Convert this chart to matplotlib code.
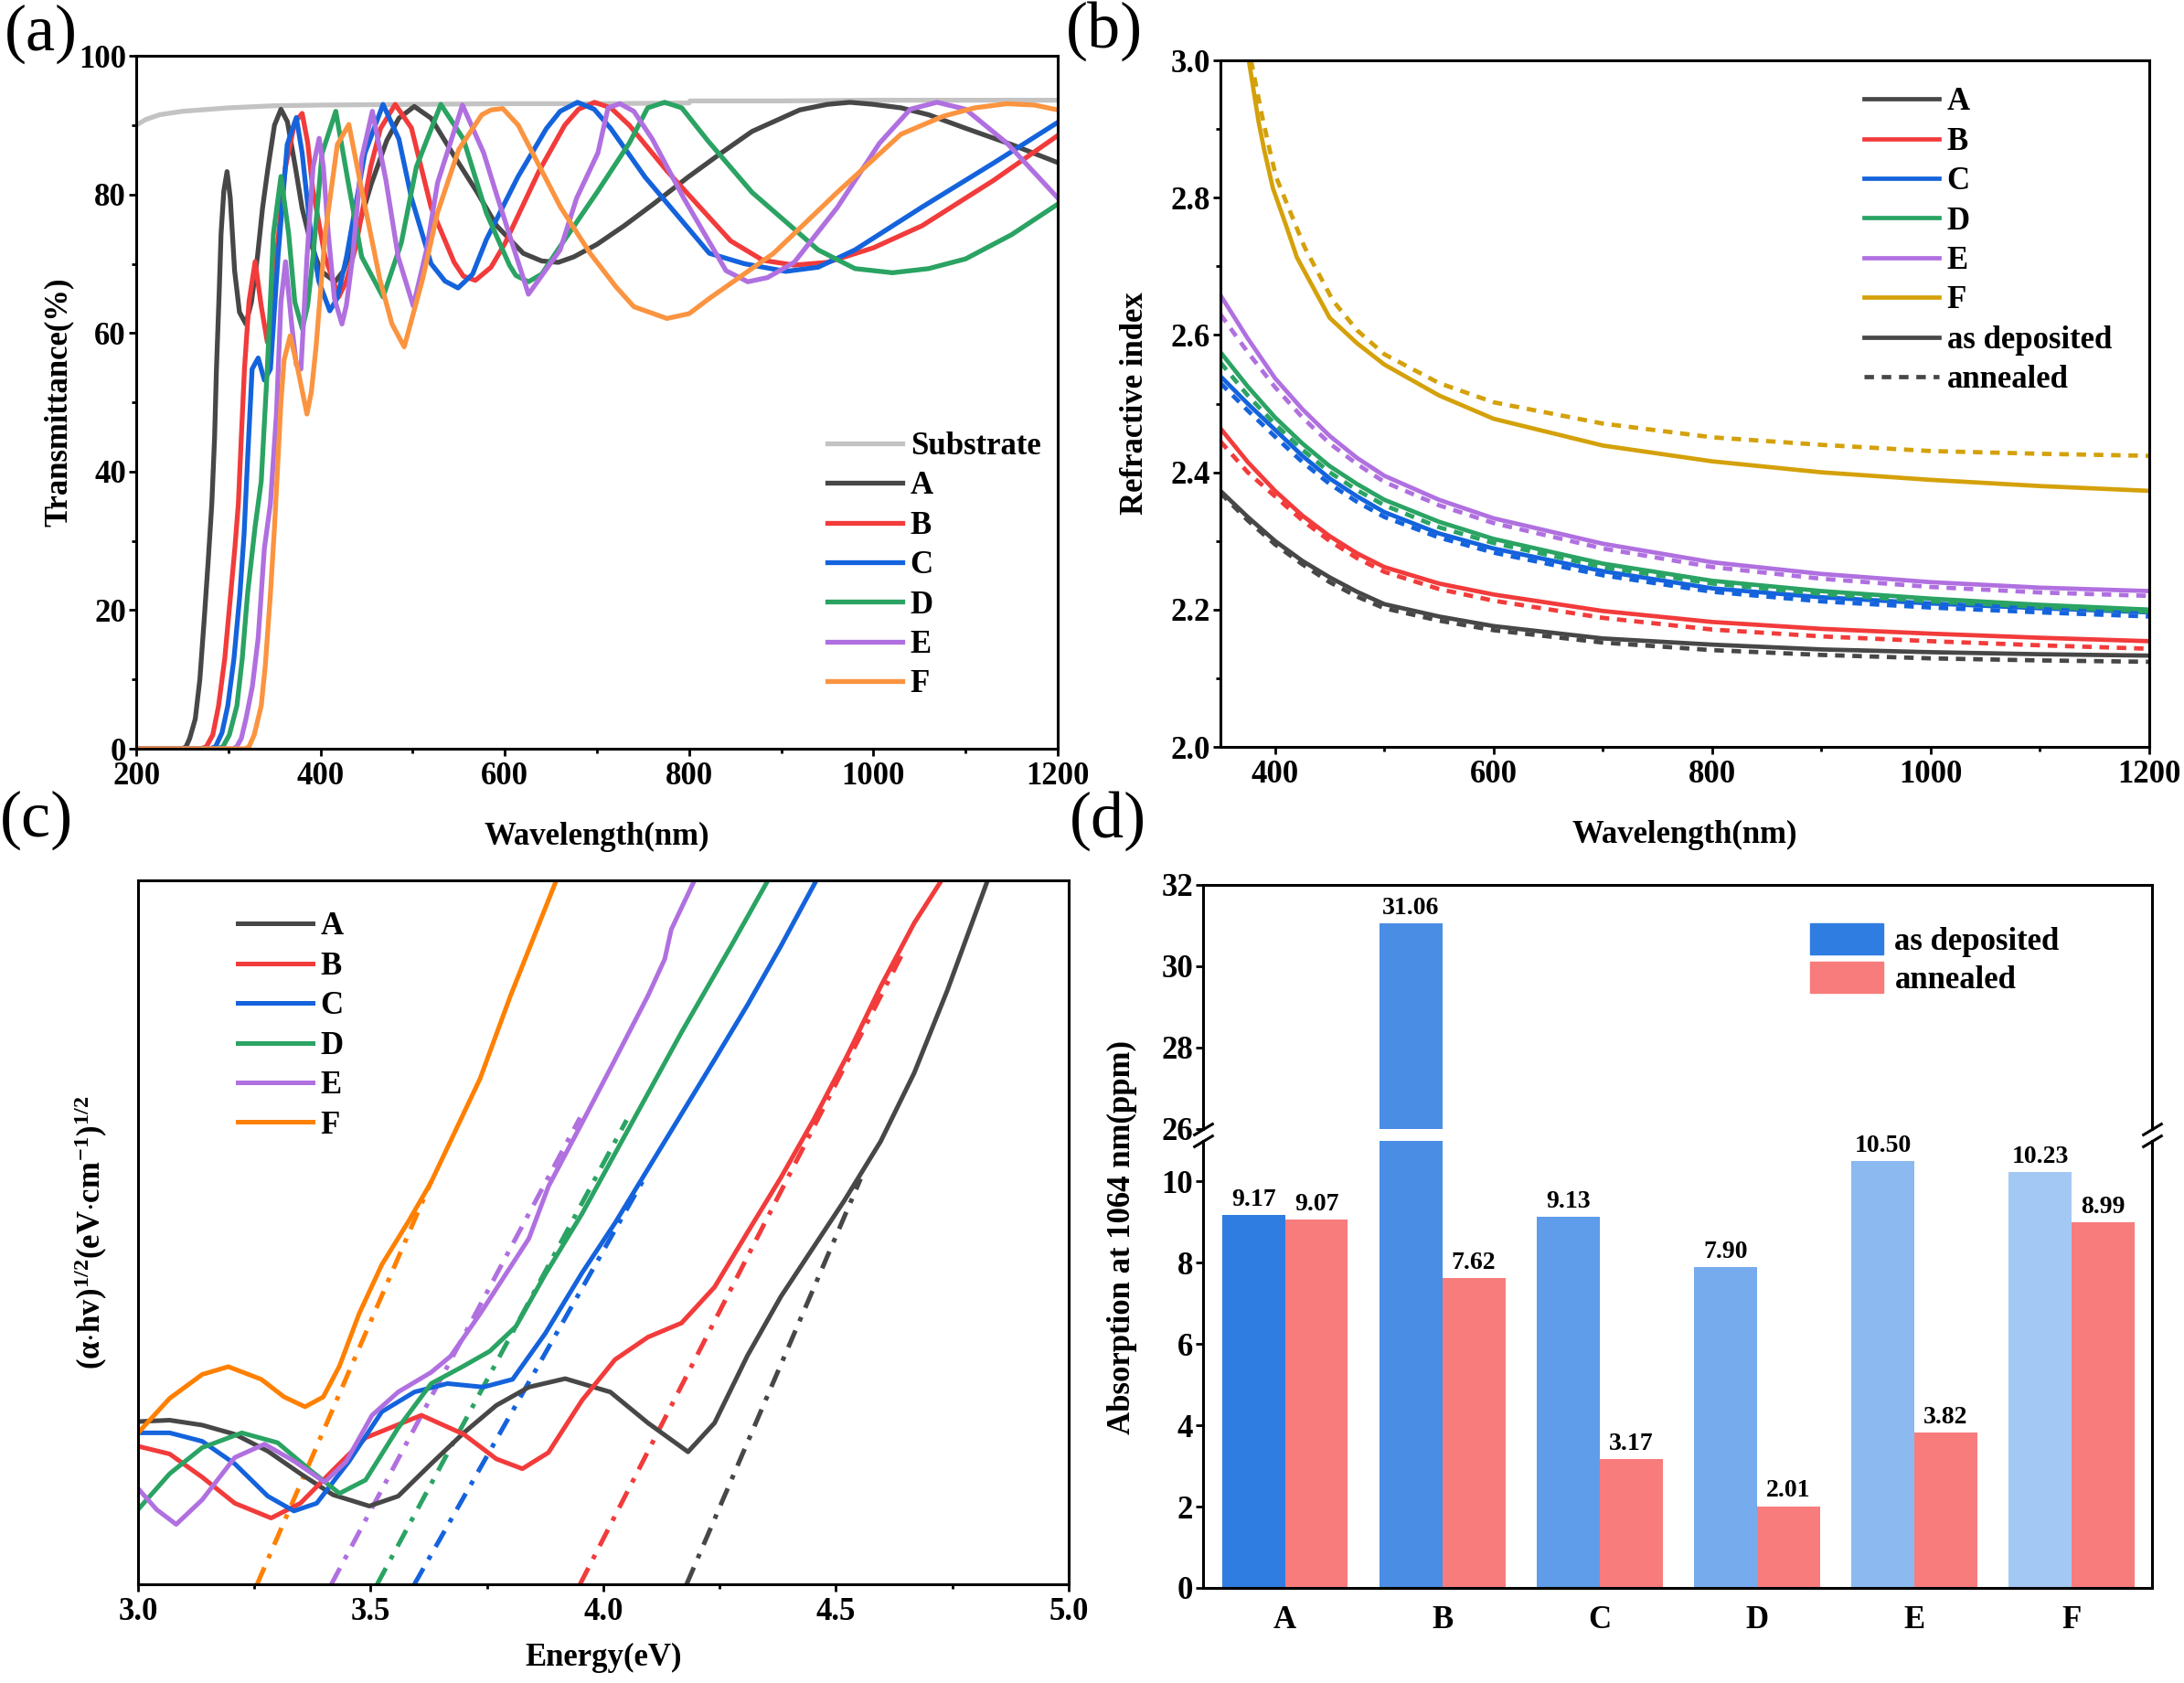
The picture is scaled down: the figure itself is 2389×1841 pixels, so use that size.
import numpy as np
import matplotlib.pyplot as plt
from matplotlib.ticker import MultipleLocator, FormatStrFormatter, NullLocator
from matplotlib.patches import Patch

# ---------------- data ----------------
# (a) transmittance spectra
sub_wl = [200, 210, 225, 250, 300, 350, 400, 500, 600, 700, 800, 801, 900, 1000, 1100, 1200]
sub_T = [90.0, 90.8, 91.5, 92.0, 92.5, 92.8, 92.9, 93.0, 93.1, 93.1, 93.2, 93.5, 93.5, 93.6, 93.6, 93.6]

A_wl = [200, 250, 254, 258, 264, 269, 274, 278, 282, 285, 287, 290, 292, 295, 298.5, 302, 306.7, 312,
        319, 325, 331.5, 337, 343, 350, 357, 364, 372.7, 380, 389.3, 400, 415.7, 425, 438.8, 455, 471.9,
        485, 501.7, 520, 544.8, 570, 591, 620, 640, 658, 675, 700, 729.7, 760, 798.8, 835, 868.3, 920,
        950, 974.5, 1000, 1030, 1060, 1099, 1150, 1200]
A_T = [0, 0, 0.3, 1.5, 4.3, 10, 19.2, 27, 35.4, 45, 54.8, 66, 74.3, 80.5, 83.3, 79.5, 69.0, 63,
       61.3, 64.5, 71, 78, 83.9, 90, 92.3, 90.5, 83.9, 78, 73, 69, 67.4, 69, 74.3, 81.5, 87.8,
       91, 92.7, 91, 85.6, 80.3, 75.5, 71.5, 70.4, 70.2, 71, 72.8, 75.5, 78.5, 82.5, 86, 89.1, 92.2,
       93.0, 93.3, 93.0, 92.5, 91.5, 89.6, 87.2, 84.6]

B_wl = [200, 270, 276, 283, 289.3, 296, 302.5, 307, 310.8, 314, 317.4, 322.3, 329, 335.6, 342.2, 347,
        352.1, 357, 362, 372, 380, 386, 391.6, 404.8, 419.7, 428, 437.9, 454.4, 465, 481, 498.6, 520,
        545, 555, 568, 585, 600, 637.2, 665, 680, 697.3, 715, 735, 775.9, 845, 880, 914, 950, 1000,
        1053, 1130, 1200]
B_T = [0, 0, 0.3, 2, 6.2, 13, 22.4, 29, 35.4, 45, 54.8, 64.5, 70.3, 63.9, 58.7, 63,
       71, 78, 84, 90.4, 91.7, 87.5, 80.7, 71, 65.2, 67.5, 72.3, 84, 89.5, 93, 89.6, 78.1,
       70.2, 68.2, 67.6, 69.5, 72.9, 83.4, 90, 92.3, 93.3, 92.5, 90, 83.4, 73.3, 70.5, 69.8, 70.2, 72.3,
       75.5, 82, 88.5]

C_wl = [200, 280, 286, 293, 299.3, 306, 312.5, 317, 320.8, 325.7, 332.3, 339, 345.6, 353.8, 363.8,
        373.7, 380, 388.5, 398, 410, 418, 428.2, 448, 467.8, 485, 498.6, 520, 535, 549.2, 565, 580, 614,
        645, 660, 678.8, 697, 715, 752.2, 822, 860, 905, 940, 980, 1053, 1130, 1200]
C_T = [0, 0, 0.3, 2.3, 6.2, 13, 22.4, 31, 41.8, 54.8, 56.4, 53.2, 54.8, 71, 87.2,
       91.1, 86, 75.5, 67.5, 63.2, 65, 71, 85.9, 93, 88, 79.5, 70, 67.5, 66.5, 68.5, 73.5, 82.5,
       89.5, 92, 93.3, 92.3, 89.5, 82.5, 71.5, 70, 68.9, 69.5, 72, 78.2, 84.5, 90.4]

D_wl = [200, 288, 294, 301, 309.2, 315, 320.8, 329, 335.6, 342.2, 348.8, 357, 365.4, 372, 380.2, 386,
        391.8, 401.6, 416.5, 431.4, 444.6, 467.8, 487.6, 504, 530.5, 555, 580, 605, 612, 625.6, 640, 660,
        700, 735, 755, 773.4, 792, 820, 868.3, 940, 980, 1020.7, 1060, 1100, 1150, 1200]
D_T = [0, 0, 0.3, 2, 6.2, 13, 22.4, 32.1, 38.6, 54.8, 74.3, 82.6, 74.3, 64.5, 60.6, 64,
       71, 85.9, 92, 80.7, 71, 65.2, 73, 84, 93, 88, 77.3, 69.8, 68.3, 67.4, 68.5, 72.5,
       80.3, 87.4, 92.5, 93.3, 92.5, 87.8, 80.3, 72, 69.3, 68.7, 69.3, 70.7, 74.2, 78.6]

E_wl = [200, 305, 309, 314, 319, 326, 332.3, 339, 345.6, 352.1, 357, 362, 368.6, 373.7, 378.7, 385.3,
        391.9, 398.5, 403, 408.4, 415, 423.2, 428, 434.8, 444.6, 456.2, 471, 484.2, 500.6, 515, 527,
        554, 577, 591, 625.6, 660, 678, 701, 712, 724.9, 740, 760, 794, 840, 863.7, 885, 914, 960.7,
        1006.6, 1040, 1069, 1100, 1145, 1200]
E_T = [0, 0, 0.3, 1.5, 4.3, 9, 16, 28.9, 35.4, 48.3, 64.5, 70.3, 61.3, 55.4, 54.8, 71,
       84, 88.1, 84, 74.3, 65, 61.3, 64, 71, 85.2, 92, 82, 71, 63.9, 72, 81.7,
       92.9, 86, 80, 65.6, 72, 79.5, 86, 92.5, 93.1, 92, 88, 79.5, 69, 67.4, 68, 70.2, 78.1,
       87.4, 92.3, 93.3, 92.3, 87.4, 79.5]

F_wl = [200, 318, 322.3, 328, 335.6, 340, 345.6, 350, 353.8, 357, 360.4, 367, 375.3, 385.2, 390, 395.1,
        405, 418.2, 430.7, 444.6, 464.4, 477.5, 490.8, 510.6, 527, 550, 575, 585, 597.8, 614.5, 660.3,
        692.6, 720.4, 740, 775.9, 800, 822, 891.6, 960.7, 1030, 1076, 1110, 1145, 1175, 1200]
F_T = [0, 0, 0.3, 2, 6.2, 12, 22.4, 32, 41.8, 50, 56.1, 59.6, 54.8, 48.3, 51.5, 58,
       74.3, 87.2, 90.1, 80.7, 67.7, 61.3, 58, 67.7, 77.4, 86.5, 91.5, 92.2, 92.4, 90, 78.2,
       71.5, 66.7, 63.8, 62.1, 62.8, 65, 71.5, 80.3, 88.7, 91.3, 92.5, 93.1, 92.9, 92.2]

# (b) refractive index, solid = as deposited, dashed = annealed
n_wl = [350, 375, 400, 425, 450, 475, 500, 550, 600, 700, 800, 900, 1000, 1100, 1200]
nA_dep = [2.373, 2.335, 2.300, 2.271, 2.247, 2.226, 2.208, 2.190, 2.176, 2.158, 2.149, 2.142, 2.138, 2.135, 2.133]
nA_ann = [2.370, 2.330, 2.295, 2.266, 2.240, 2.219, 2.202, 2.184, 2.170, 2.152, 2.141, 2.134, 2.129, 2.126, 2.124]
nB_dep = [2.464, 2.415, 2.373, 2.337, 2.307, 2.282, 2.262, 2.238, 2.222, 2.198, 2.182, 2.172, 2.165, 2.159, 2.154]
nB_ann = [2.445, 2.400, 2.365, 2.330, 2.300, 2.275, 2.255, 2.230, 2.213, 2.188, 2.171, 2.161, 2.154, 2.148, 2.143]
nC_dep = [2.540, 2.500, 2.462, 2.424, 2.391, 2.365, 2.342, 2.311, 2.289, 2.256, 2.231, 2.218, 2.209, 2.202, 2.196]
nC_ann = [2.530, 2.490, 2.452, 2.415, 2.383, 2.357, 2.335, 2.305, 2.283, 2.250, 2.226, 2.212, 2.203, 2.196, 2.190]
nD_dep = [2.575, 2.525, 2.480, 2.442, 2.409, 2.383, 2.360, 2.328, 2.303, 2.267, 2.242, 2.227, 2.216, 2.207, 2.200]
nD_ann = [2.560, 2.512, 2.470, 2.433, 2.400, 2.374, 2.352, 2.320, 2.297, 2.262, 2.238, 2.223, 2.212, 2.204, 2.197]
nE_dep = [2.658, 2.595, 2.537, 2.492, 2.453, 2.421, 2.395, 2.360, 2.333, 2.296, 2.269, 2.252, 2.240, 2.232, 2.227]
nE_ann = [2.630, 2.575, 2.524, 2.480, 2.442, 2.412, 2.386, 2.352, 2.326, 2.289, 2.262, 2.245, 2.233, 2.225, 2.220]
nF_dep_wl = [376, 385, 390, 398, 410, 420, 450, 475, 500, 550, 600, 700, 800, 900, 1000, 1100, 1200]
nF_dep = [3.0, 2.91, 2.87, 2.814, 2.76, 2.713, 2.625, 2.588, 2.557, 2.512, 2.478, 2.439, 2.416, 2.400,
          2.389, 2.380, 2.373]
nF_ann_wl = [378, 388, 395, 401, 415, 427, 453, 475, 500, 550, 600, 700, 800, 900, 1000, 1100, 1200]
nF_ann = [3.0, 2.92, 2.87, 2.83, 2.775, 2.728, 2.65, 2.607, 2.572, 2.53, 2.502, 2.471, 2.451, 2.44,
          2.431, 2.427, 2.424]

# (c) Tauc plot (arbitrary units 0-100) and linear fits
tA_E = [3.0, 3.068, 3.138, 3.208, 3.279, 3.349, 3.419, 3.497, 3.559, 3.630, 3.700, 3.770, 3.840, 3.918,
        4.015, 4.096, 4.182, 4.239, 4.31, 4.382, 4.453, 4.518, 4.596, 4.668, 4.739, 4.826]
tA_v = [23.1, 23.3, 22.6, 21.3, 18.9, 15.7, 12.7, 11.1, 12.5, 17.1, 21.5, 25.4, 28, 29.2,
        27.3, 22.9, 18.8, 22.9, 32.5, 40.9, 48, 54.5, 62.9, 72.6, 84.3, 100]
tB_E = [3.0, 3.068, 3.138, 3.208, 3.286, 3.349, 3.419, 3.489, 3.609, 3.700, 3.770, 3.826, 3.882, 3.954,
        4.025, 4.096, 4.168, 4.239, 4.31, 4.382, 4.453, 4.525, 4.596, 4.668, 4.727]
tB_v = [19.6, 18.5, 15.2, 11.5, 9.4, 11.5, 16.2, 20.8, 24, 21.3, 17.8, 16.4, 18.7, 26.1,
        31.9, 35.1, 37.1, 42.2, 50, 57.8, 66.1, 75.2, 84.9, 93.9, 100]
tC_E = [3.0, 3.068, 3.138, 3.208, 3.279, 3.335, 3.384, 3.454, 3.524, 3.594, 3.665, 3.742, 3.805, 3.875,
        3.954, 4.025, 4.096, 4.168, 4.239, 4.31, 4.382, 4.458]
tC_v = [21.5, 21.5, 20.3, 17.1, 12.5, 10.4, 11.5, 17.5, 24.5, 27.3, 28.5, 28, 29.1, 35.6,
        44.2, 51.3, 59, 66.8, 74.5, 82.3, 90.7, 100]
tD_E = [3.0, 3.068, 3.138, 3.223, 3.300, 3.370, 3.433, 3.489, 3.559, 3.630, 3.700, 3.756, 3.812, 3.875,
        3.954, 4.061, 4.168, 4.275, 4.354]
tD_v = [10.6, 15.7, 19.4, 21.5, 20.1, 16.2, 12.9, 14.8, 22.2, 28.5, 31, 33.1, 36.6, 44,
        52.6, 65.5, 78.4, 90.7, 100]
tE_E = [3.0, 3.040, 3.082, 3.138, 3.208, 3.272, 3.335, 3.401, 3.447, 3.503, 3.559, 3.630, 3.672, 3.735,
        3.840, 3.882, 3.954, 4.025, 4.096, 4.132, 4.146, 4.196]
tE_v = [13.6, 10.6, 8.5, 12, 18, 19.9, 17.5, 14.5, 17.4, 24, 27.3, 30.1, 32.4, 38.4,
        49.1, 56.5, 65.5, 74.5, 83.6, 88.8, 93.0, 100]
tF_E = [3.0, 3.068, 3.138, 3.194, 3.265, 3.314, 3.359, 3.398, 3.433, 3.475, 3.524, 3.580, 3.629, 3.672,
        3.735, 3.800, 3.899]
tF_v = [21.5, 26.4, 29.8, 30.9, 29.1, 26.6, 25.2, 26.6, 31, 38.4, 45.4, 51.4, 57, 63,
        71.8, 83.5, 100]
fit_E0 = [4.179, 3.950, 3.594, 3.514, 3.4155, 3.256]
fit_slope = [154, 129.3, 116.7, 123, 124, 153]
fit_end = [4.553, 4.64, 4.09, 4.05, 3.95, 3.63]

# (d) absorption at 1064 nm
samples = ['A', 'B', 'C', 'D', 'E', 'F']
abs_dep = [9.17, 31.06, 9.13, 7.90, 10.50, 10.23]
abs_ann = [9.07, 7.62, 3.17, 2.01, 3.82, 8.99]

# ---------------- style ----------------
plt.rcParams['font.family'] = ['Liberation Serif', 'DejaVu Serif']
plt.rcParams['font.weight'] = 'bold'
plt.rcParams['axes.labelweight'] = 'bold'
plt.rcParams['mathtext.fontset'] = 'custom'
plt.rcParams['mathtext.rm'] = 'Liberation Serif:bold'
plt.rcParams['mathtext.it'] = 'Liberation Serif:bold'
plt.rcParams['mathtext.bf'] = 'Liberation Serif:bold'
plt.rcParams['axes.linewidth'] = 2.2

FS = 25
c_sub = '#c3c3c3'
c_A, c_B, c_C, c_D, c_E = '#474747', '#f23b3b', '#1463dc', '#2aa363', '#b070e0'
names = ['A', 'B', 'C', 'D', 'E', 'F']
leg_kw = dict(loc='upper left', frameon=False, fontsize=FS, handlelength=2.36, handletextpad=0.25,
              labelspacing=0.3, borderpad=0, borderaxespad=0)


def style(ax):
    ax.tick_params(which='major', direction='out', length=6, width=2, labelsize=FS, pad=4,
                   top=False, right=False)
    ax.tick_params(which='minor', direction='out', length=3.5, width=2, top=False, right=False)
    ax.tick_params(axis='y', which='major', pad=2)


fig = plt.figure(figsize=(23.89, 18.41), dpi=100)

# ---------------- (a) ----------------
ax = fig.add_axes([0.0624, 0.5551, 0.4219, 0.4117])
lw = 3.8
ax.plot(sub_wl, sub_T, color=c_sub, lw=lw, label='Substrate')
cols_a = [c_A, c_B, c_C, c_D, c_E, '#fb9440']
for wl, T, c, nm in zip([A_wl, B_wl, C_wl, D_wl, E_wl, F_wl], [A_T, B_T, C_T, D_T, E_T, F_T], cols_a, names):
    ax.plot(wl, T, color=c, lw=lw, label=nm, solid_joinstyle='round')
ax.set_xlim(200, 1200)
ax.set_ylim(0, 100)
ax.xaxis.set_major_locator(MultipleLocator(200))
ax.xaxis.set_minor_locator(MultipleLocator(100))
ax.yaxis.set_major_locator(MultipleLocator(20))
ax.yaxis.set_minor_locator(MultipleLocator(10))
style(ax)
ax.set_xlabel('Wavelength(nm)', fontsize=FS, labelpad=24)
ax.set_ylabel('Transmittance(%)', fontsize=FS, labelpad=4)
ax.legend(bbox_to_anchor=(0.75, 0.458), **leg_kw)

# ---------------- (b) ----------------
ax = fig.add_axes([0.5588, 0.5562, 0.4253, 0.4079])
lw = 3.4
cols_b = [c_A, c_B, c_C, c_D, c_E, '#d4a10a']
dep = [nA_dep, nB_dep, nC_dep, nD_dep, nE_dep]
ann = [nA_ann, nB_ann, nC_ann, nD_ann, nE_ann]
dash = (0, (2.2, 1.8))
for i in range(5):
    ax.plot(n_wl, ann[i], color=cols_b[i], lw=lw, ls=dash)
    ax.plot(n_wl, dep[i], color=cols_b[i], lw=lw, label=names[i])
ax.plot(nF_ann_wl, nF_ann, color=cols_b[5], lw=lw, ls=dash)
ax.plot(nF_dep_wl, nF_dep, color=cols_b[5], lw=lw, label='F')
ax.plot([], [], color=c_A, lw=lw, label='as deposited')
ax.plot([], [], color=c_A, lw=lw, ls=dash, label='annealed')
ax.set_xlim(350, 1200)
ax.set_ylim(2.0, 3.0)
ax.xaxis.set_major_locator(MultipleLocator(200))
ax.xaxis.set_minor_locator(MultipleLocator(100))
ax.yaxis.set_major_locator(MultipleLocator(0.2))
ax.yaxis.set_minor_locator(MultipleLocator(0.1))
ax.yaxis.set_major_formatter(FormatStrFormatter('%.1f'))
style(ax)
ax.set_xlabel('Wavelength(nm)', fontsize=FS, labelpad=24)
ax.set_ylabel('Refractive index', fontsize=FS, labelpad=16)
ax.legend(bbox_to_anchor=(0.693, 0.961), **leg_kw)

# ---------------- (c) ----------------
ax = fig.add_axes([0.0632, 0.0587, 0.4261, 0.4183])
lw = 3.6
cols_c = [c_A, c_B, c_C, c_D, c_E, '#ff8000']
tE = [tA_E, tB_E, tC_E, tD_E, tE_E, tF_E]
tv = [tA_v, tB_v, tC_v, tD_v, tE_v, tF_v]
for i in range(6):
    xs = np.array([fit_E0[i], fit_end[i]])
    ax.plot(xs, fit_slope[i] * (xs - fit_E0[i]), color=cols_c[i], lw=lw,
            ls=(0, (4, 2.2, 1, 2.2)))
for i in range(6):
    ax.plot(tE[i], tv[i], color=cols_c[i], lw=lw, label=names[i], solid_joinstyle='round')
ax.set_xlim(3.0, 5.0)
ax.set_ylim(0, 100)
ax.xaxis.set_major_locator(MultipleLocator(0.5))
ax.xaxis.set_minor_locator(MultipleLocator(0.25))
ax.xaxis.set_major_formatter(FormatStrFormatter('%.1f'))
ax.yaxis.set_major_locator(NullLocator())
style(ax)
ax.set_xlabel('Energy(eV)', fontsize=FS, labelpad=12)
ax.set_ylabel(r'$(\alpha{\cdot}hv)^{1/2}(eV{\cdot}cm^{-1})^{1/2}$', fontsize=FS, labelpad=22)
ax.legend(bbox_to_anchor=(0.107, 0.955), **leg_kw)

# ---------------- (d) broken axis bar chart ----------------
ax_top = fig.add_axes([0.5509, 0.3294, 0.4345, 0.1448])
ax_bot = fig.add_axes([0.5509, 0.0565, 0.4345, 0.2656])
blues = ['#2f7de1', '#4a8de5', '#5f9ce9', '#76abed', '#8cb9f0', '#a4c8f4']
red = '#f87c7c'
x = np.arange(len(samples))
w = 0.4
for a in (ax_top, ax_bot):
    a.bar(x - w / 2, abs_dep, w, color=blues, edgecolor='none')
    a.bar(x + w / 2, abs_ann, w, color=red, edgecolor='none')
    a.set_xlim(-0.52, 5.51)
ax_top.set_ylim(26, 32)
ax_bot.set_ylim(0, 11)
ax_top.spines['bottom'].set_visible(False)
ax_bot.spines['top'].set_visible(False)
ax_top.xaxis.set_visible(False)
ax_top.yaxis.set_major_locator(MultipleLocator(2))
ax_bot.yaxis.set_major_locator(MultipleLocator(2))
style(ax_top)
style(ax_bot)
ax_top.yaxis.set_minor_locator(NullLocator())
ax_bot.yaxis.set_minor_locator(NullLocator())
ax_bot.set_xticks(x)
ax_bot.set_xticklabels(samples)
ax_bot.tick_params(axis='x', length=0, pad=14)

for i in range(len(samples)):
    tgt = ax_top if abs_dep[i] > 11 else ax_bot
    tgt.annotate('%.2f' % abs_dep[i], (x[i] - w / 2, abs_dep[i]), xytext=(0, 3),
                 textcoords='offset points', ha='center', va='bottom', fontsize=20)
    ax_bot.annotate('%.2f' % abs_ann[i], (x[i] + w / 2, abs_ann[i]), xytext=(0, 3),
                    textcoords='offset points', ha='center', va='bottom', fontsize=20)

# break marks
kw = dict(marker=[(-1, -0.6), (1, 0.6)], markersize=16, linestyle='none', color='k',
          mec='k', mew=2.2, clip_on=False)
ax_top.plot([0, 1], [0, 0], transform=ax_top.transAxes, **kw)
ax_bot.plot([0, 1], [1, 1], transform=ax_bot.transAxes, **kw)

ax_top.legend(handles=[Patch(color=blues[0], label='as deposited'), Patch(color=red, label='annealed')],
              loc='upper left', bbox_to_anchor=(0.64, 0.842), frameon=False, fontsize=FS,
              handlelength=2.3, handleheight=1.12, handletextpad=0.35, labelspacing=0.15,
              borderpad=0, borderaxespad=0)
fig.text(0.514, 0.265, 'Absorption at 1064 nm(ppm)', rotation=90, ha='center', va='center',
         fontsize=FS, fontweight='bold')

# panel letters
for t, px, py in [('(a)', 0.002, 0.980), ('(b)', 0.488, 0.9815), ('(c)', 0.0, 0.5128), ('(d)', 0.4897, 0.5122)]:
    fig.text(px, py, t, fontsize=52, fontweight='normal', ha='left', va='center')

fig.savefig('out.png', dpi=100)
